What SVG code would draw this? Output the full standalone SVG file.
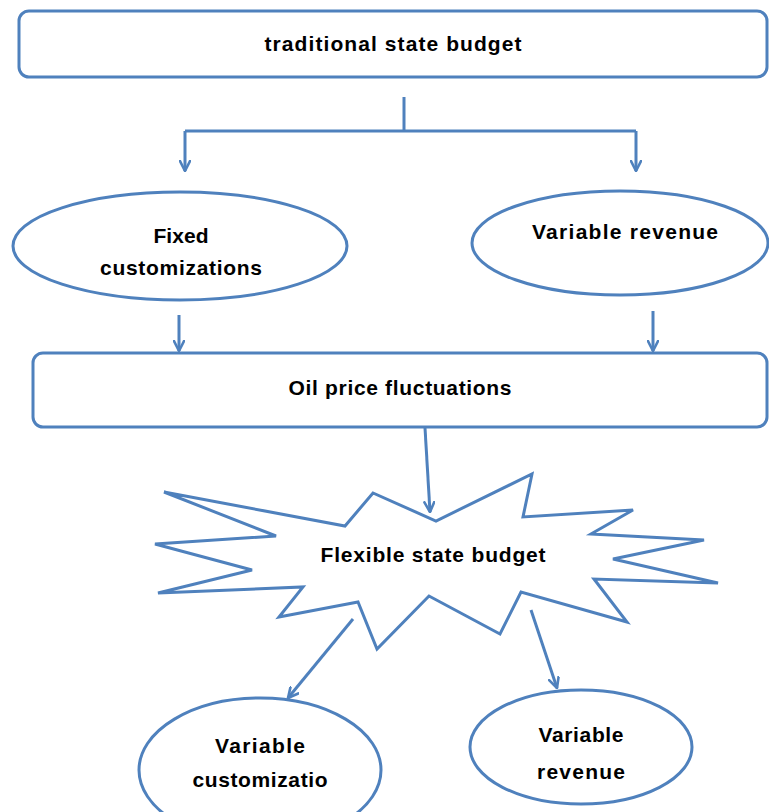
<svg xmlns="http://www.w3.org/2000/svg" width="769" height="812" viewBox="0 0 769 812">
<defs>
<marker id="arr" viewBox="0 0 12 12" refX="11" refY="6" markerWidth="12" markerHeight="12" markerUnits="userSpaceOnUse" orient="auto">
<path d="M1,1 L11,6 L1,11" fill="none" stroke="#4F81BD" stroke-width="2.6" stroke-linecap="round" stroke-linejoin="round"/>
</marker>
<style>
.s{fill:#fff;stroke:#4F81BD;stroke-width:3;}
.c{fill:none;stroke:#4F81BD;stroke-width:3;}
.t{font-family:"Liberation Sans",Arial,sans-serif;font-weight:bold;font-size:21px;fill:#000;text-anchor:middle;}
</style>
</defs>
<rect width="769" height="812" fill="#fff"/>
<g id="connectors">
<polyline class="c" points="404,97 404,131"/>
<polyline class="c" points="185,131 636,131"/>
<line class="c" x1="185" y1="131" x2="185" y2="171" marker-end="url(#arr)"/>
<line class="c" x1="636" y1="131" x2="636" y2="171" marker-end="url(#arr)"/>
<line class="c" x1="179" y1="315" x2="179" y2="351" marker-end="url(#arr)"/>
<line class="c" x1="653" y1="311" x2="653" y2="351" marker-end="url(#arr)"/>
<line class="c" x1="425" y1="428" x2="430" y2="512" marker-end="url(#arr)"/>
<line class="c" x1="353" y1="619" x2="288" y2="698" marker-end="url(#arr)"/>
<line class="c" x1="531" y1="610" x2="557" y2="688" marker-end="url(#arr)"/>
</g>
<g id="traditional">
<rect class="s" x="19" y="11" width="748" height="66" rx="10"/>
<text class="t" x="393" y="51" textLength="257">traditional state budget</text>
</g>
<g id="fixed">
<ellipse class="s" cx="180" cy="246" rx="167" ry="54"/>
<text class="t" x="181" y="243" textLength="55">Fixed</text>
<text class="t" x="181" y="275" textLength="162">customizations</text>
</g>
<g id="varrev1">
<ellipse class="s" cx="620" cy="243" rx="148" ry="52"/>
<text class="t" x="625" y="239" textLength="186">Variable revenue</text>
</g>
<g id="oil">
<rect class="s" x="33" y="353" width="734" height="74" rx="10"/>
<text class="t" x="400" y="395" textLength="223">Oil price fluctuations</text>
</g>
<g id="flexible">
<polygon class="s" stroke-linejoin="miter" points="164,492 345,526 373,493 436,521 532,474 523,517 633,510 591,534 704,540 613,559 718,583 594,579 627,622 521,592 500,634 429,596 377,649 358,602 279,617 303,587 158,593 252,570 155,544 276,536"/>
<text class="t" x="433" y="562" textLength="225">Flexible state budget</text>
</g>
<g id="varcust">
<ellipse class="s" cx="260" cy="770" rx="121" ry="72"/>
<text class="t" x="260" y="753" textLength="90">Variable</text>
<text class="t" x="260" y="787" textLength="135">customizatio</text>
</g>
<g id="varrev2">
<ellipse class="s" cx="581" cy="747" rx="111" ry="57"/>
<text class="t" x="581" y="742" textLength="85">Variable</text>
<text class="t" x="581" y="779" textLength="88">revenue</text>
</g>
</svg>
